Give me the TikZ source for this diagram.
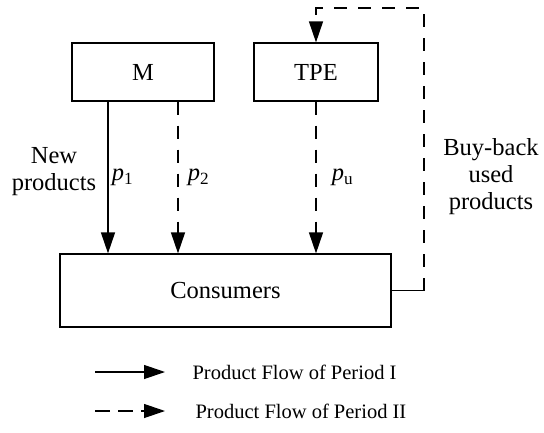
\documentclass[tikz,border=0pt]{standalone}
\usepackage{fontspec}
\setmainfont{Liberation Serif}
\usetikzlibrary{arrows.meta}

\begin{document}
\begin{tikzpicture}[x=1pt, y=-1pt, line width=1.2pt,
    box/.style={draw, minimum height=58pt, font=\fontsize{24.5}{27}\selectfont},
    lbl/.style={font=\fontsize{24.5}{27}\selectfont, align=center},
    flow/.style={-{Triangle[length=21pt,width=14pt]}},
    flowtwo/.style={flow, dash pattern=on 13pt off 11pt},
    legend/.style={font=\fontsize{20.5}{24}\selectfont, anchor=west, inner sep=0pt}]
    \useasboundingbox (0,0) rectangle (544,432);
    \node[box, minimum width=142pt] (m) at (143,72) {M};
    \node[box, minimum width=124pt] (tpe) at (316,72) {TPE};
    \node[box, minimum width=331pt, minimum height=73pt] (cons) at (225.5,290.5) {Consumers};
    \node[lbl] (new) at (54,172) {New\\products};
    \node[lbl] (buy) at (491,177) {Buy-back\\used\\products};
    % flows to the consumers
    \draw[flow] ([xshift=-35pt]m.south) -- ([xshift=-35pt]m.south |- cons.north) node[lbl, midway, right] {\textit{p}\textsubscript{1}};
    \draw[flowtwo] ([xshift=35pt]m.south) -- ([xshift=35pt]m.south |- cons.north) node[lbl, midway, right, xshift=6pt] {\textit{p}\textsubscript{2}};
    \draw[flowtwo] (tpe.south) -- (tpe.south |- cons.north) node[lbl, midway, right, xshift=12pt] {\textit{p}\textsubscript{u}};
    % buy-back loop
    \coordinate (turn) at (424,290.5);
    \coordinate (top) at (424,8);
    \draw (cons.east) -- (turn);
    \draw[flowtwo] (turn) -- (top) -| (tpe.north);
    % legend
    \coordinate (la) at (95,372);
    \coordinate (lb) at (165,372);
    \coordinate (lc) at (95,411);
    \coordinate (ld) at (165,411);
    \draw[flow] (la) -- (lb);
    \draw[flowtwo, dash pattern=on 15pt off 8pt] (lc) -- (ld);
    \node[legend] (one) at (192,372) {Product Flow of Period I};
    \node[legend] (two) at (195,411) {Product Flow of Period II};
\end{tikzpicture}
\end{document}
